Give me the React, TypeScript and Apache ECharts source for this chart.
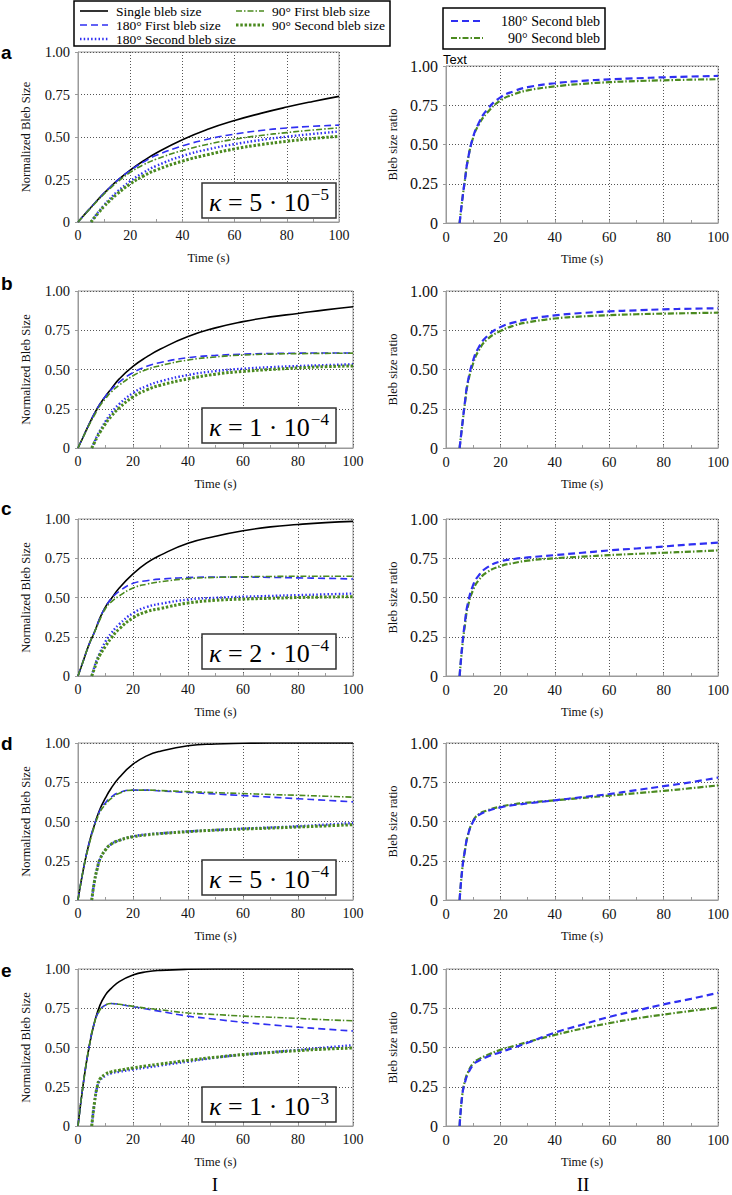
import React, { useEffect, useRef } from "react";
import * as echarts from "echarts";

// ---------- data ----------
const T1 = [0, 2, 4, 6, 8, 10, 12, 15, 20, 25, 30, 40, 50, 60, 70, 80, 90, 100];
const T2 = [5, 6, 7, 8, 10, 12, 15, 20, 25, 30, 40, 50, 60, 70, 80, 90, 100];
const X_TICKS = [0, 20, 40, 60, 80, 100];
const Y_TICKS = ["0", "0.25", "0.50", "0.75", "1.00"];

// panel a: kappa = 5e-5
const aSingle = [0, 0.035, 0.07, 0.104, 0.138, 0.17, 0.2, 0.243, 0.305, 0.359, 0.406, 0.484, 0.547, 0.597, 0.639, 0.676, 0.709, 0.739];
const a180First = [0, 0.035, 0.07, 0.104, 0.138, 0.17, 0.2, 0.243, 0.303, 0.352, 0.392, 0.447, 0.488, 0.517, 0.538, 0.553, 0.563, 0.57];
const a90First = [0, 0.034, 0.068, 0.101, 0.134, 0.165, 0.194, 0.234, 0.292, 0.336, 0.37, 0.42, 0.458, 0.487, 0.509, 0.526, 0.541, 0.554];
const a180Second = [0, 0.022, 0.043, 0.063, 0.1, 0.133, 0.178, 0.24, 0.29, 0.33, 0.388, 0.428, 0.458, 0.482, 0.502, 0.518, 0.532];
const a90Second = [0, 0.02, 0.039, 0.057, 0.092, 0.123, 0.165, 0.224, 0.27, 0.306, 0.358, 0.397, 0.43, 0.455, 0.475, 0.491, 0.504];
const aRatio180 = [0, 0.15, 0.28, 0.4, 0.55, 0.635, 0.72, 0.8, 0.84, 0.865, 0.89, 0.905, 0.915, 0.922, 0.928, 0.933, 0.937];
const aRatio90 = [0, 0.15, 0.28, 0.4, 0.545, 0.625, 0.7, 0.78, 0.82, 0.845, 0.87, 0.886, 0.897, 0.904, 0.909, 0.913, 0.916];

// panel b: kappa = 1e-4
const bSingle = [0, 0.075, 0.15, 0.22, 0.28, 0.33, 0.375, 0.44, 0.52, 0.58, 0.63, 0.71, 0.765, 0.805, 0.835, 0.857, 0.88, 0.9];
const b180First = [0, 0.075, 0.15, 0.22, 0.28, 0.33, 0.37, 0.42, 0.48, 0.52, 0.545, 0.575, 0.59, 0.598, 0.602, 0.604, 0.605, 0.605];
const b90First = [0, 0.074, 0.145, 0.21, 0.27, 0.315, 0.355, 0.4, 0.46, 0.5, 0.525, 0.56, 0.58, 0.592, 0.598, 0.601, 0.603, 0.604];
const b180Second = [0, 0.04, 0.08, 0.11, 0.17, 0.22, 0.28, 0.35, 0.395, 0.425, 0.465, 0.49, 0.505, 0.515, 0.522, 0.528, 0.533];
const b90Second = [0, 0.035, 0.07, 0.1, 0.155, 0.2, 0.255, 0.325, 0.37, 0.4, 0.44, 0.47, 0.488, 0.5, 0.51, 0.518, 0.523];
const bRatio180 = [0, 0.15, 0.3, 0.42, 0.56, 0.64, 0.71, 0.77, 0.8, 0.82, 0.845, 0.86, 0.87, 0.877, 0.883, 0.887, 0.89];
const bRatio90 = [0, 0.15, 0.29, 0.41, 0.54, 0.62, 0.69, 0.745, 0.78, 0.8, 0.825, 0.838, 0.846, 0.852, 0.856, 0.859, 0.862];

// panel c: kappa = 2e-4
const cSingle = [0, 0.1, 0.2, 0.28, 0.37, 0.44, 0.49, 0.56, 0.65, 0.72, 0.77, 0.845, 0.89, 0.925, 0.95, 0.965, 0.977, 0.985];
const c180First = [0, 0.1, 0.2, 0.28, 0.37, 0.44, 0.49, 0.54, 0.59, 0.607, 0.617, 0.627, 0.63, 0.63, 0.628, 0.625, 0.622, 0.618];
const c90First = [0, 0.1, 0.2, 0.28, 0.36, 0.43, 0.47, 0.51, 0.56, 0.585, 0.6, 0.62, 0.628, 0.632, 0.634, 0.635, 0.635, 0.635];
const c180Second = [0, 0.06, 0.11, 0.15, 0.22, 0.27, 0.33, 0.4, 0.44, 0.46, 0.487, 0.498, 0.505, 0.51, 0.515, 0.52, 0.525];
const c90Second = [0, 0.05, 0.1, 0.135, 0.19, 0.24, 0.3, 0.37, 0.41, 0.43, 0.465, 0.482, 0.49, 0.495, 0.5, 0.503, 0.505];
const cRatio180 = [0, 0.2, 0.35, 0.46, 0.58, 0.64, 0.69, 0.73, 0.745, 0.755, 0.77, 0.785, 0.8, 0.812, 0.825, 0.838, 0.85];
const cRatio90 = [0, 0.19, 0.33, 0.44, 0.55, 0.61, 0.66, 0.7, 0.72, 0.735, 0.75, 0.76, 0.77, 0.778, 0.785, 0.792, 0.8];

// panel d: kappa = 5e-4
const dSingle = [0, 0.2, 0.36, 0.48, 0.58, 0.65, 0.71, 0.78, 0.865, 0.918, 0.948, 0.982, 0.994, 0.998, 1, 1, 1, 1];
const d180First = [0, 0.2, 0.36, 0.48, 0.57, 0.62, 0.655, 0.685, 0.7, 0.7, 0.695, 0.685, 0.675, 0.665, 0.655, 0.645, 0.635, 0.625];
const d90First = [0, 0.2, 0.35, 0.47, 0.56, 0.61, 0.645, 0.68, 0.7, 0.7, 0.697, 0.69, 0.684, 0.678, 0.672, 0.667, 0.661, 0.655];
const d180Second = [0, 0.12, 0.2, 0.26, 0.32, 0.355, 0.38, 0.405, 0.418, 0.425, 0.437, 0.446, 0.455, 0.462, 0.47, 0.48, 0.49];
const d90Second = [0, 0.12, 0.2, 0.26, 0.32, 0.355, 0.38, 0.403, 0.415, 0.423, 0.435, 0.445, 0.452, 0.458, 0.465, 0.472, 0.48];
const dRatio180 = [0, 0.2, 0.32, 0.41, 0.5, 0.54, 0.565, 0.59, 0.605, 0.615, 0.635, 0.655, 0.675, 0.7, 0.725, 0.75, 0.78];
const dRatio90 = [0, 0.2, 0.32, 0.41, 0.505, 0.545, 0.57, 0.595, 0.61, 0.62, 0.635, 0.65, 0.665, 0.68, 0.695, 0.712, 0.73];

// panel e: kappa = 1e-3
const eSingle = [0, 0.28, 0.5, 0.66, 0.77, 0.835, 0.875, 0.92, 0.962, 0.982, 0.991, 0.998, 1, 1, 1, 1, 1, 1];
const e180First = [0, 0.28, 0.5, 0.66, 0.74, 0.77, 0.78, 0.775, 0.76, 0.745, 0.73, 0.7, 0.68, 0.66, 0.645, 0.63, 0.617, 0.605];
const e90First = [0, 0.28, 0.5, 0.66, 0.74, 0.77, 0.78, 0.775, 0.762, 0.75, 0.74, 0.72, 0.71, 0.7, 0.693, 0.685, 0.677, 0.67];
const e180Second = [0, 0.15, 0.25, 0.29, 0.32, 0.335, 0.345, 0.36, 0.372, 0.385, 0.41, 0.435, 0.455, 0.47, 0.485, 0.5, 0.515];
const e90Second = [0, 0.15, 0.25, 0.3, 0.33, 0.345, 0.355, 0.37, 0.383, 0.395, 0.418, 0.438, 0.455, 0.468, 0.48, 0.49, 0.497];
const eRatio180 = [0, 0.2, 0.28, 0.33, 0.39, 0.415, 0.44, 0.47, 0.5, 0.53, 0.595, 0.645, 0.695, 0.735, 0.775, 0.81, 0.848];
const eRatio90 = [0, 0.2, 0.29, 0.34, 0.4, 0.425, 0.45, 0.485, 0.51, 0.535, 0.58, 0.62, 0.655, 0.685, 0.71, 0.733, 0.755];

const PANEL_LETTERS = ["a", "b", "c", "d", "e"];
const KAPPA_MANTISSA = ["5", "1", "2", "5", "1"];
const KAPPA_EXPONENT = ["\u22125", "\u22124", "\u22124", "\u22124", "\u22123"];
const LEFT_SERIES_NAMES = ["Single bleb size", "180\u00b0 First bleb size", "90\u00b0 First bleb size", "180\u00b0 Second bleb size", "90\u00b0 Second bleb size"];
const RIGHT_SERIES_NAMES = ["180\u00b0 Second bleb", "90\u00b0 Second bleb"];

const PANELS = [
  { single: aSingle, f180: a180First, f90: a90First, s180: a180Second, s90: a90Second, r180: aRatio180, r90: aRatio90 },
  { single: bSingle, f180: b180First, f90: b90First, s180: b180Second, s90: b90Second, r180: bRatio180, r90: bRatio90 },
  { single: cSingle, f180: c180First, f90: c90First, s180: c180Second, s90: c90Second, r180: cRatio180, r90: cRatio90 },
  { single: dSingle, f180: d180First, f90: d90First, s180: d180Second, s90: d90Second, r180: dRatio180, r90: dRatio90 },
  { single: eSingle, f180: e180First, f90: e90First, s180: e180Second, s90: e90Second, r180: eRatio180, r90: eRatio90 },
];

// ---------- layout / style ----------
const SERIF = "'Liberation Serif', 'Times New Roman', serif";
const SANS = "'Liberation Sans', Arial, sans-serif";
const BLUE = "#2f2ff2";
const GREEN = "#4b8a1f";
const AXIS_GRAY = "#9a9a9a";
const GRID_GRAY = "#555";

const ROW_TOPS = [52, 291, 519, 743, 969];
const LEFT_H = [170, 157, 157, 157, 157];
const LEFT_W = [261, 275, 275, 275, 275];
const RIGHT_TOPS = [66, 291, 519, 743, 969];
const LETTER_Y = [52, 283, 508, 743, 970];
const KAPPA_BOX_Y = [183, 408, 634, 860, 1087];

const STYLES = {
  single: { color: "#000", width: 1.6, type: "solid" as any },
  f180: { color: BLUE, width: 1.6, type: [7, 4] as any },
  f90: { color: GREEN, width: 1.6, type: [6, 2, 1.5, 2] as any },
  s180: { color: BLUE, width: 2.4, type: [1.5, 2.2] as any },
  s90: { color: GREEN, width: 3, type: [2.5, 1.8] as any },
};

function pairs(t: number[], v: number[]) {
  return t.map((x, i) => [x, v[i]]);
}

function buildOption() {
  const grid: any[] = [];
  const xAxis: any[] = [];
  const yAxis: any[] = [];
  const series: any[] = [];
  const graphic: any[] = [];

  const mkX = (gi: number, fs: number) => ({
    gridIndex: gi,
    type: "value",
    min: 0,
    max: 100,
    interval: 20,
    axisLine: { show: true, lineStyle: { color: AXIS_GRAY, width: 1 } },
    axisTick: { show: true, inside: true, length: 3, lineStyle: { color: AXIS_GRAY } },
    minorTick: { show: true, splitNumber: 2, length: 3, lineStyle: { color: AXIS_GRAY } },
    splitLine: { show: true, lineStyle: { color: GRID_GRAY, type: [1, 2], width: 1 } },
    axisLabel: { fontFamily: SERIF, fontSize: fs, color: "#111", margin: 6, formatter: (v: number) => String(X_TICKS[X_TICKS.indexOf(v)] ?? v) },
    name: "Time (s)",
    nameLocation: "middle",
    nameGap: 29,
    nameTextStyle: { fontFamily: SERIF, fontSize: 12.5, color: "#111" },
  });
  const mkY = (gi: number, fs: number, name: string, gap: number) => ({
    gridIndex: gi,
    type: "value",
    min: 0,
    max: 1,
    interval: 0.25,
    axisLine: { show: true, lineStyle: { color: AXIS_GRAY, width: 1 } },
    axisTick: { show: true, inside: false, length: 3, lineStyle: { color: AXIS_GRAY } },
    splitLine: { show: true, lineStyle: { color: GRID_GRAY, type: [1, 2], width: 1 } },
    axisLabel: { fontFamily: SERIF, fontSize: fs, color: "#111", margin: 8, formatter: (v: number) => Y_TICKS[Math.round(v * 4)] },
    name,
    nameLocation: "middle",
    nameGap: gap,
    nameTextStyle: { fontFamily: SERIF, fontSize: 12.5, color: "#111" },
  });

  PANELS.forEach((p, i) => {
    const gl = i * 2;
    const gr = i * 2 + 1;
    grid.push({ left: 78, top: ROW_TOPS[i], width: LEFT_W[i], height: LEFT_H[i], show: true, borderColor: AXIS_GRAY, borderWidth: 1, containLabel: false });
    grid.push({ left: 446, top: RIGHT_TOPS[i], width: 274, height: 157, show: true, borderColor: AXIS_GRAY, borderWidth: 1, containLabel: false });
    xAxis.push(mkX(gl, 14));
    xAxis.push(mkX(gr, 14.5));
    yAxis.push(mkY(gl, 14.5, "Normalized Bleb Size", 46));
    yAxis.push(mkY(gr, 16, "Bleb size ratio", 47));

    const keys: (keyof typeof STYLES)[] = ["single", "f180", "f90", "s180", "s90"];
    keys.forEach((k, j) => {
      const st = STYLES[k];
      const t = k === "s180" || k === "s90" ? T2 : T1;
      series.push({
        type: "line",
        name: LEFT_SERIES_NAMES[j],
        xAxisIndex: gl,
        yAxisIndex: gl,
        data: pairs(t, (p as any)[k]),
        showSymbol: false,
        smooth: 0.5,
        lineStyle: { color: st.color, width: st.width, type: st.type, cap: "butt" },
        z: 3 + j,
      });
    });
    series.push({
      type: "line",
      name: RIGHT_SERIES_NAMES[0],
      xAxisIndex: gr,
      yAxisIndex: gr,
      data: pairs(T2, p.r180),
      showSymbol: false,
      smooth: 0.5,
      lineStyle: { color: BLUE, width: 2.2, type: [7, 4] },
      z: 4,
    });
    series.push({
      type: "line",
      name: RIGHT_SERIES_NAMES[1],
      xAxisIndex: gr,
      yAxisIndex: gr,
      data: pairs(T2, p.r90),
      showSymbol: false,
      smooth: 0.5,
      lineStyle: { color: GREEN, width: 2.2, type: [6, 2, 1.5, 2] },
      z: 3,
    });

    graphic.push({
      type: "text",
      x: 1,
      y: LETTER_Y[i],
      z: 100,
      style: { text: PANEL_LETTERS[i], fontFamily: SANS, fontWeight: "bold", fontSize: 19, fill: "#000", align: "left", verticalAlign: "middle" },
    });
    graphic.push({
      type: "group",
      z: 100,
      children: [
        { type: "rect", shape: { x: 202, y: KAPPA_BOX_Y[i], width: 134, height: 35 }, style: { fill: "#fff", stroke: "#333", lineWidth: 1.5 }, z: 100 },
        {
          type: "text",
          x: 269,
          y: KAPPA_BOX_Y[i] + 19,
          z: 101,
          style: {
            text: `{k|\u03ba}{n| = ${KAPPA_MANTISSA[i]} \u00b7 10}{s|${KAPPA_EXPONENT[i]}}`,
            align: "center",
            verticalAlign: "middle",
            fill: "#000",
            rich: {
              k: { fontFamily: SERIF, fontStyle: "italic", fontSize: 26, fill: "#000" },
              n: { fontFamily: SERIF, fontSize: 26, fill: "#000" },
              s: { fontFamily: SERIF, fontSize: 17, fill: "#000", padding: [0, 0, 16, 1] },
            },
          },
        },
      ],
    });
  });

  const legItems = [
    { x: 80, y: 11, st: STYLES.single, label: LEFT_SERIES_NAMES[0] },
    { x: 80, y: 25, st: STYLES.f180, label: LEFT_SERIES_NAMES[1] },
    { x: 80, y: 39, st: STYLES.s180, label: LEFT_SERIES_NAMES[3] },
    { x: 236, y: 11, st: STYLES.f90, label: LEFT_SERIES_NAMES[2] },
    { x: 236, y: 25, st: STYLES.s90, label: LEFT_SERIES_NAMES[4] },
  ];
  graphic.push({ type: "rect", z: 100, shape: { x: 74, y: 1, width: 316, height: 45 }, style: { fill: "#fff", stroke: "#000", lineWidth: 1.5 } });
  legItems.forEach((it) => {
    graphic.push({ type: "line", z: 101, shape: { x1: it.x, y1: it.y, x2: it.x + 28, y2: it.y }, style: { stroke: it.st.color, lineWidth: it.st.width, lineDash: it.st.type === "solid" ? null : it.st.type } });
    graphic.push({ type: "text", z: 101, x: it.x + 36, y: it.y, style: { text: it.label, fontFamily: SERIF, fontSize: 13.5, fill: "#000", align: "left", verticalAlign: "middle" } });
  });

  graphic.push({ type: "rect", z: 100, shape: { x: 443, y: 8, width: 162, height: 41 }, style: { fill: "#fff", stroke: "#000", lineWidth: 1.5 } });
  const rItems = [
    { y: 21, color: BLUE, dash: [7, 4], label: RIGHT_SERIES_NAMES[0] },
    { y: 38, color: GREEN, dash: [6, 2, 1.5, 2], label: RIGHT_SERIES_NAMES[1] },
  ];
  rItems.forEach((it) => {
    graphic.push({ type: "line", z: 101, shape: { x1: 451, y1: it.y, x2: 483, y2: it.y }, style: { stroke: it.color, lineWidth: 2.2, lineDash: it.dash } });
    graphic.push({ type: "text", z: 101, x: 600, y: it.y, style: { text: it.label, fontFamily: SERIF, fontSize: 14, fill: "#000", align: "right", verticalAlign: "middle" } });
  });

  graphic.push({ type: "text", z: 100, x: 443, y: 59, style: { text: "Text", fontFamily: SANS, fontSize: 13, fill: "#000", align: "left", verticalAlign: "middle" } });
  graphic.push({ type: "text", z: 100, x: 215, y: 1194, style: { text: "I", fontFamily: SERIF, fontSize: 19, fill: "#000", align: "center", verticalAlign: "bottom" } });
  graphic.push({ type: "text", z: 100, x: 583, y: 1194, style: { text: "II", fontFamily: SERIF, fontSize: 19, fill: "#000", align: "center", verticalAlign: "bottom" } });

  return {
    animation: false,
    backgroundColor: "#fff",
    grid,
    xAxis,
    yAxis,
    series,
    graphic,
  };
}

export default function App() {
  const ref = useRef<HTMLDivElement>(null);
  useEffect(() => {
    document.body.style.margin = "0";
    const chart = echarts.init(ref.current!, null, { renderer: "svg" });
    chart.setOption(buildOption() as any);
    return () => chart.dispose();
  }, []);
  return <div ref={ref} style={{ width: 732, height: 1195 }} />;
}
